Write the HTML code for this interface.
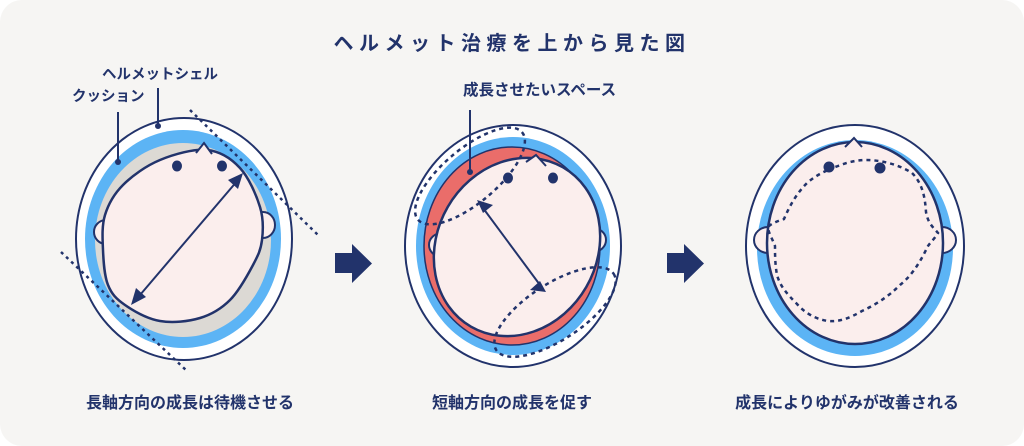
<!DOCTYPE html>
<html><head><meta charset="utf-8"><style>
body{margin:0;background:#fff;}
svg{display:block}
text{font-family:"Liberation Sans","Noto Sans CJK JP",sans-serif;font-weight:bold;fill:#22336b}
</style></head><body>
<svg width="1024" height="446" viewBox="0 0 1024 446" xmlns="http://www.w3.org/2000/svg">
<rect x="0" y="0" width="1024" height="446" rx="22" fill="#f6f5f3"/>
<text x="512" y="50" font-size="20" text-anchor="middle" letter-spacing="5.5">ヘルメット治療を上から見た図</text>

<!-- Diagram 1 -->
<g stroke="#22336b" stroke-width="2">
<ellipse cx="184" cy="239" rx="108" ry="121" fill="#fff"/>
<ellipse cx="183" cy="239" rx="98" ry="109" fill="#5cb4f5" stroke="none"/>
<ellipse cx="183" cy="240" rx="88" ry="97" fill="#dcd9d4" stroke="none"/>
<ellipse cx="106" cy="232" rx="12" ry="12" fill="#fbeeed"/>
<ellipse cx="263" cy="225" rx="12" ry="13" fill="#fbeeed"/>
<path d="M207 150 C220.3 151.3 231.2 158.5 240 168 C248.8 177.5 256.3 195 260 207 C263.7 219 263.2 230.3 262 240 C260.8 249.7 258.3 255 253 265 C247.7 275 238.8 291.2 230 300 C221.2 308.8 211.7 314.5 200 318 C188.3 321.5 172.5 323.2 160 321 C147.5 318.8 133.7 311 125 305 C116.3 299 111.7 294.2 108 285 C104.3 275.8 103.5 261.7 103 250 C102.5 238.3 101.7 225.8 105 215 C108.3 204.2 113.8 194.2 123 185 C132.2 175.8 146 165.8 160 160 C174 154.2 193.7 148.7 207 150 Z" fill="#fbeeed" stroke-width="2.5"/>
<path d="M196 153 L204 143 L212 154" fill="#fbeeed" stroke-width="2"/>
</g>
<ellipse cx="177" cy="166" rx="5" ry="5.5" fill="#22336b"/>
<ellipse cx="222" cy="166" rx="5" ry="5.5" fill="#22336b"/>
<line x1="140" y1="295" x2="238" y2="180" stroke="#22336b" stroke-width="2"/>
<polygon points="243,173 228,180 238,189" fill="#22336b"/>
<polygon points="131,305 136,288 146,297" fill="#22336b"/>
<line x1="190" y1="110" x2="318" y2="235" stroke="#22336b" stroke-width="2.5" stroke-dasharray="3 4"/>
<line x1="61" y1="252" x2="188" y2="372" stroke="#22336b" stroke-width="2.5" stroke-dasharray="3 4"/>
<line x1="118" y1="112" x2="118" y2="160" stroke="#22336b" stroke-width="2"/>
<circle cx="118" cy="162" r="3" fill="#22336b"/>
<line x1="158" y1="88" x2="158" y2="125" stroke="#22336b" stroke-width="2"/>
<circle cx="158" cy="126" r="3" fill="#22336b"/>
<text x="102" y="79" font-size="14.5">ヘルメットシェル</text>
<text x="72" y="101" font-size="14.5">クッション</text>
<text x="190" y="408" font-size="16" text-anchor="middle">長軸方向の成長は待機させる</text>

<!-- arrows -->
<g fill="#22336b">
<path d="M335 253 H352 V244 L372 263.5 L352 283 V273 H335 Z"/>
<path d="M667 253 H684 V244 L704 263.5 L684 283 V273 H667 Z"/>
</g>

<!-- Diagram 2 -->
<g stroke="#22336b" stroke-width="2">
<ellipse cx="513" cy="246" rx="108" ry="121" fill="#fff"/>
<ellipse cx="513" cy="246" rx="97" ry="109" fill="#5cb4f5" stroke="none"/>
<ellipse cx="512" cy="246" rx="88" ry="99" fill="#ea6d6a" stroke-width="1.5"/>
<ellipse cx="442" cy="245" rx="13" ry="12" fill="#fbeeed"/>
<ellipse cx="593" cy="240" rx="13" ry="12" fill="#fbeeed"/>
<ellipse cx="517" cy="247" rx="92" ry="80" transform="rotate(-60 517 247)" fill="#fbeeed" stroke-width="2.5"/>
<path d="M526 162 L536 155 L546 166" fill="#fbeeed"/>
</g>
<ellipse cx="508" cy="178" rx="5" ry="5.5" fill="#22336b"/>
<ellipse cx="553" cy="178" rx="5" ry="5.5" fill="#22336b"/>
<line x1="483" y1="208" x2="540" y2="285" stroke="#22336b" stroke-width="2"/>
<polygon points="477,200 493,205 483,213" fill="#22336b"/>
<polygon points="546,292 530,290 540,281" fill="#22336b"/>
<ellipse cx="470" cy="176" rx="68" ry="27" transform="rotate(-40 470 176)" fill="none" stroke="#22336b" stroke-width="2.5" stroke-dasharray="4 4"/>
<ellipse cx="555" cy="312" rx="70" ry="28" transform="rotate(-33 555 312)" fill="none" stroke="#22336b" stroke-width="2.5" stroke-dasharray="4 4"/>
<line x1="470" y1="110" x2="470" y2="170" stroke="#22336b" stroke-width="2"/>
<circle cx="470" cy="172" r="3" fill="#22336b"/>
<text x="463" y="95" font-size="15.5">成長させたいスペース</text>
<text x="512" y="408" font-size="16" text-anchor="middle">短軸方向の成長を促す</text>

<!-- Diagram 3 -->
<g stroke="#22336b" stroke-width="2">
<ellipse cx="855" cy="246" rx="109" ry="121" fill="#fff"/>
<ellipse cx="855" cy="248" rx="98" ry="108" fill="#5cb4f5" stroke="none"/>
<ellipse cx="768" cy="240" rx="14" ry="13" fill="#fbeeed"/>
<ellipse cx="942" cy="240" rx="14" ry="13" fill="#fbeeed"/>
<ellipse cx="855" cy="243" rx="88" ry="101" fill="#fbeeed" stroke-width="2.5"/>
<path d="M845 147 L854 138 L862 147" fill="#fbeeed"/>
</g>
<circle cx="829" cy="167" r="5.5" fill="#22336b"/>
<circle cx="880" cy="168" r="5.5" fill="#22336b"/>
<path d="M828 170 C840 165 852 160 866 160 C880 160 898 164 912 173 C922 183 925 196 926 212 C928 224 934 228 938 233 C934 240 928 244 926 250 C918 266 910 277 900 285 C888 297 875 305 862 311 C850 318 840 322 828 321 C815 319 805 313 797 304 C787 294 780 286 777 275 C775 264 775 254 775 246 C772 238 768 232 768 227 C772 223 778 221 784 219 C790 205 797 193 807 183 C814 177 821 173 828 170 Z" fill="none" stroke="#22336b" stroke-width="2.5" stroke-dasharray="4 4"/>
<text x="847" y="408" font-size="16" text-anchor="middle">成長によりゆがみが改善される</text>
</svg>
</body></html>
